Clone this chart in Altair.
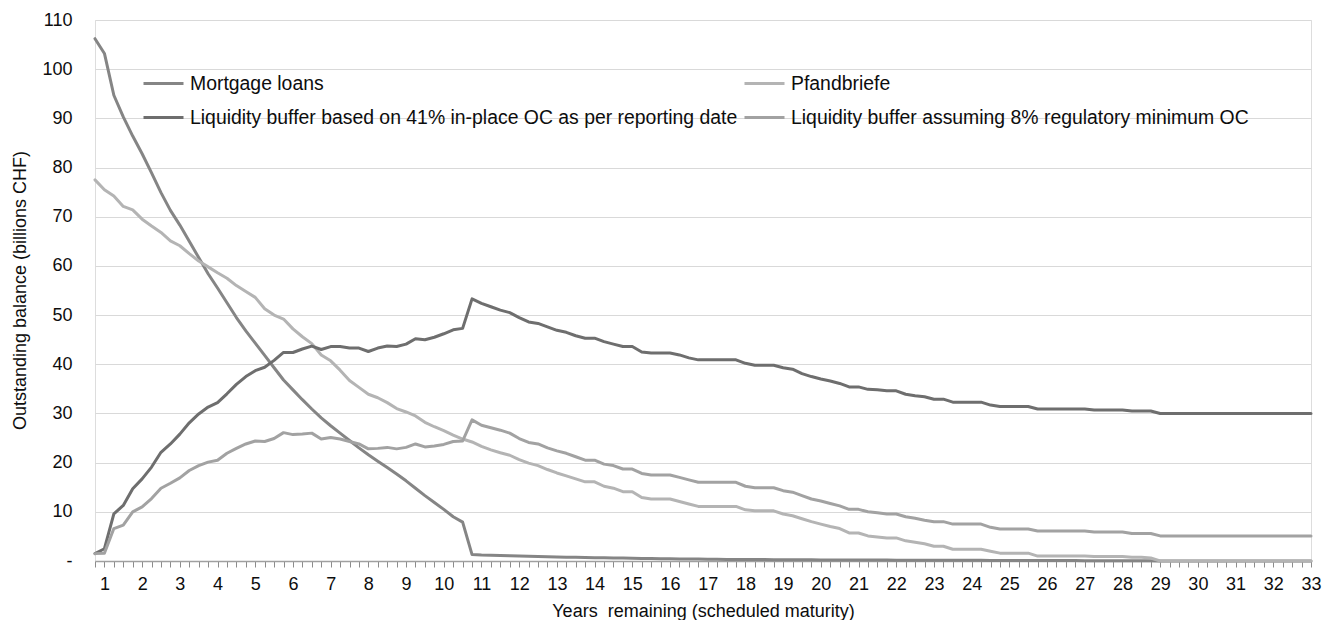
import altair as alt
import pandas as pd

# Category axis: quarters from 0.75 to 33 years remaining
years = [0.75] + [y + q for y in range(1, 33) for q in (0.0, 0.25, 0.5, 0.75)] + [33.0]

series_names = [
    "Mortgage loans",
    "Pfandbriefe",
    "Liquidity buffer based on 41% in-place OC as per reporting date",
    "Liquidity buffer assuming 8% regulatory minimum OC",
]
series_colors = ["#858585", "#b4b4b4", "#6e6e6e", "#a2a2a2"]
# legend fills column by column: this order gives rows (Mortgage, Pfandbriefe), (41%, 8%)
legend_order = [0, 2, 1, 3]

mortgage_loans = [
    106.2,
    103.2, 94.7, 90.3, 86.4,
    82.8, 78.9, 74.9, 71.3,
    68.3, 65.0, 61.7, 58.4,
    55.5, 52.5, 49.5, 46.8,
    44.3, 41.8, 39.3, 36.8,
    34.8, 32.8, 30.9, 29.1,
    27.5, 26.0, 24.5, 23.0,
    21.6, 20.3, 19.0, 17.7,
    16.3, 14.8, 13.3, 11.9,
    10.5, 9.0, 7.9, 1.3,
    1.2, 1.15, 1.1, 1.05,
    1.0, 0.95, 0.9, 0.85,
    0.8, 0.77, 0.74, 0.71,
    0.68, 0.65, 0.62, 0.59,
    0.56, 0.53, 0.5, 0.47,
    0.45, 0.43, 0.41, 0.39,
    0.37, 0.35, 0.33, 0.31,
    0.3, 0.29, 0.28, 0.27,
    0.26, 0.25, 0.24, 0.23,
    0.22, 0.21, 0.2, 0.2,
    0.19, 0.19, 0.18, 0.18,
    0.17, 0.17, 0.16, 0.16,
    0.15, 0.15, 0.14, 0.14,
    0.13, 0.13, 0.12, 0.12,
    0.11, 0.11, 0.1, 0.1,
    0.09, 0.09, 0.08, 0.08,
    0.07, 0.07, 0.06, 0.06,
    0.05, 0.05, 0.04, 0.04,
    0.0, 0.0, 0.0, 0.0,
    0.0, 0.0, 0.0, 0.0,
    0.0, 0.0, 0.0, 0.0,
    0.0, 0.0, 0.0, 0.0,
    0.0,
]

pfandbriefe = [
    77.5,
    75.5, 74.2, 72.1, 71.4,
    69.5, 68.1, 66.8, 65.1,
    64.1, 62.5, 61.0, 59.8,
    58.6, 57.5, 56.0, 54.8,
    53.6, 51.3, 50.0, 49.2,
    47.2, 45.6, 44.2, 41.9,
    40.7, 38.8, 36.7, 35.3,
    33.9, 33.2, 32.2, 31.0,
    30.3, 29.5, 28.2, 27.3,
    26.5, 25.6, 24.8, 24.2,
    23.3, 22.6, 22.0, 21.5,
    20.6, 19.9, 19.4, 18.6,
    17.9, 17.3, 16.7, 16.1,
    16.1, 15.2, 14.8, 14.1,
    14.1, 12.9, 12.6, 12.6,
    12.6, 12.1, 11.6, 11.1,
    11.1, 11.1, 11.1, 11.1,
    10.4, 10.2, 10.2, 10.2,
    9.55, 9.2, 8.6, 8.0,
    7.5, 7.0, 6.6, 5.7,
    5.7, 5.1, 4.9, 4.7,
    4.7, 4.1, 3.8, 3.5,
    3.0, 3.0, 2.4, 2.4,
    2.4, 2.4, 2.0, 1.6,
    1.6, 1.6, 1.6, 1.0,
    1.0, 1.0, 1.0, 1.0,
    1.0, 0.9, 0.9, 0.9,
    0.9, 0.75, 0.75, 0.6,
    0.0, 0.0, 0.0, 0.0,
    0.0, 0.0, 0.0, 0.0,
    0.0, 0.0, 0.0, 0.0,
    0.0, 0.0, 0.0, 0.0,
    0.0,
]

liquidity_41 = [
    1.5,
    2.5, 9.6, 11.3, 14.7,
    16.7, 19.1, 22.1, 23.8,
    25.8, 28.1, 29.9, 31.3,
    32.2, 34.0, 35.9, 37.5,
    38.7, 39.4, 40.8, 42.4,
    42.4, 43.1, 43.7, 43.0,
    43.6, 43.6, 43.3, 43.3,
    42.6, 43.3, 43.7, 43.6,
    44.1, 45.2, 45.0, 45.5,
    46.2, 47.0, 47.3, 53.3,
    52.4, 51.7, 51.0, 50.5,
    49.5, 48.6, 48.3, 47.6,
    46.9, 46.5, 45.8, 45.3,
    45.3, 44.6, 44.1, 43.6,
    43.6, 42.5, 42.3, 42.3,
    42.3, 41.9, 41.3, 40.9,
    40.9, 40.9, 40.9, 40.9,
    40.2, 39.8, 39.8, 39.8,
    39.3, 39.0, 38.1, 37.5,
    37.0, 36.6, 36.1, 35.4,
    35.4, 34.9, 34.8, 34.6,
    34.6, 33.9, 33.6, 33.4,
    32.9, 32.9, 32.3, 32.3,
    32.3, 32.3, 31.7, 31.4,
    31.4, 31.4, 31.4, 30.9,
    30.9, 30.9, 30.9, 30.9,
    30.9, 30.7, 30.7, 30.7,
    30.7, 30.5, 30.5, 30.5,
    30.0, 30.0, 30.0, 30.0,
    30.0, 30.0, 30.0, 30.0,
    30.0, 30.0, 30.0, 30.0,
    30.0, 30.0, 30.0, 30.0,
    30.0,
]

liquidity_8 = [
    1.5,
    1.6, 6.6, 7.3, 10.0,
    11.0, 12.7, 14.8, 15.8,
    16.9, 18.4, 19.4, 20.1,
    20.5, 21.9, 22.9, 23.8,
    24.4, 24.3, 24.9, 26.1,
    25.7, 25.8, 26.0, 24.8,
    25.1, 24.8, 24.3, 23.8,
    22.8, 22.9, 23.1, 22.8,
    23.1, 23.8, 23.2, 23.4,
    23.7, 24.3, 24.4, 28.7,
    27.6, 27.1, 26.6, 26.0,
    24.9, 24.1, 23.8, 23.0,
    22.4, 21.9, 21.2, 20.5,
    20.5, 19.7, 19.4, 18.7,
    18.7, 17.8, 17.5, 17.5,
    17.5, 17.0, 16.5, 16.0,
    16.0, 16.0, 16.0, 16.0,
    15.2, 14.9, 14.9, 14.9,
    14.3, 14.0, 13.3, 12.6,
    12.2, 11.7, 11.2, 10.5,
    10.5, 10.0, 9.8, 9.55,
    9.55, 9.0, 8.7, 8.3,
    8.0, 8.0, 7.5, 7.5,
    7.5, 7.5, 6.85, 6.5,
    6.5, 6.5, 6.5, 6.1,
    6.1, 6.1, 6.1, 6.1,
    6.1, 5.9, 5.9, 5.9,
    5.9, 5.6, 5.6, 5.6,
    5.1, 5.1, 5.1, 5.1,
    5.1, 5.1, 5.1, 5.1,
    5.1, 5.1, 5.1, 5.1,
    5.1, 5.1, 5.1, 5.1,
    5.1,
]

y_ticks = [0, 10, 20, 30, 40, 50, 60, 70, 80, 90, 100, 110]

all_series = [mortgage_loans, pfandbriefe, liquidity_41, liquidity_8]
for s in all_series:
    assert len(s) == len(years), len(s)

records = []
for k, (name, vals) in enumerate(zip(series_names, all_series)):
    for x, v in zip(years, vals):
        records.append({"year": x, "value": v, "series": name, "k": k})
df = pd.DataFrame(records)

legend_domain = [series_names[i] for i in legend_order]
legend_range = [series_colors[i] for i in legend_order]

FONT = "Liberation Sans"
TXT = "#0d0d0d"

chart = alt.Chart(df).mark_line(strokeWidth=3, strokeJoin="round", strokeCap="round").encode(
    x=alt.X(
        "year:Q",
        scale=alt.Scale(domain=[0.75, 33], nice=False, zero=False),
        axis=alt.Axis(
            values=years,
            labelExpr="datum.value % 1 == 0 ? datum.value : ''",
            title="Years\u00a0 remaining (scheduled maturity)",
            grid=False,
            tickSize=6,
            tickColor="#8c8c8c",
            tickWidth=1,
            domainColor="#a0a0a0",
            domainWidth=1.5,
            labelFontSize=18,
            labelFont=FONT,
            labelColor=TXT,
            labelPadding=8,
            labelOverlap=False,
            labelFlush=False,
            labelBound=False,
            titleFontSize=18,
            titleFont=FONT,
            titleFontWeight="normal",
            titleColor=TXT,
            titleY=50,
            titleBaseline="middle",
        ),
    ),
    y=alt.Y(
        "value:Q",
        scale=alt.Scale(domain=[0, 110], nice=False),
        axis=alt.Axis(
            values=y_ticks,
            labelExpr="datum.value == 0 ? '-\u00a0\u00a0' : datum.label",
            title="Outstanding balance (billions CHF)",
            ticks=False,
            tickSize=0,
            domain=False,
            gridColor="#d9d9d9",
            gridWidth=1,
            labelFontSize=18,
            labelFont=FONT,
            labelColor=TXT,
            labelPadding=23,
            titleFontSize=18,
            titleFont=FONT,
            titleFontWeight="normal",
            titleColor=TXT,
            titleX=-75,
            titleY=270,
            titleAngle=270,
            titleAlign="center",
            titleBaseline="middle",
        ),
    ),
    color=alt.Color(
        "series:N",
        scale=alt.Scale(domain=legend_domain, range=legend_range),
        sort=legend_domain,
        legend=alt.Legend(
            title=None,
            orient="none",
            legendX=47,
            legendY=42,
            columns=2,
            symbolType="stroke",
            symbolSize=1600,
            symbolStrokeWidth=3,
            labelFontSize=19.4,
            labelFont=FONT,
            labelColor=TXT,
            labelLimit=1000,
            labelOffset=5,
            rowPadding=3,
            columnPadding=0,
            padding=0,
        ),
    ),
    order=alt.Order("k:Q"),
).properties(
    width=1216,
    height=541,
    autosize=alt.AutoSizeParams(type="none"),
    padding={"left": 87, "top": 12, "right": 11, "bottom": 70},
).configure_view(stroke=None).configure(font=FONT)

chart.save("out.html", embed_options={"renderer": "svg", "actions": False})
